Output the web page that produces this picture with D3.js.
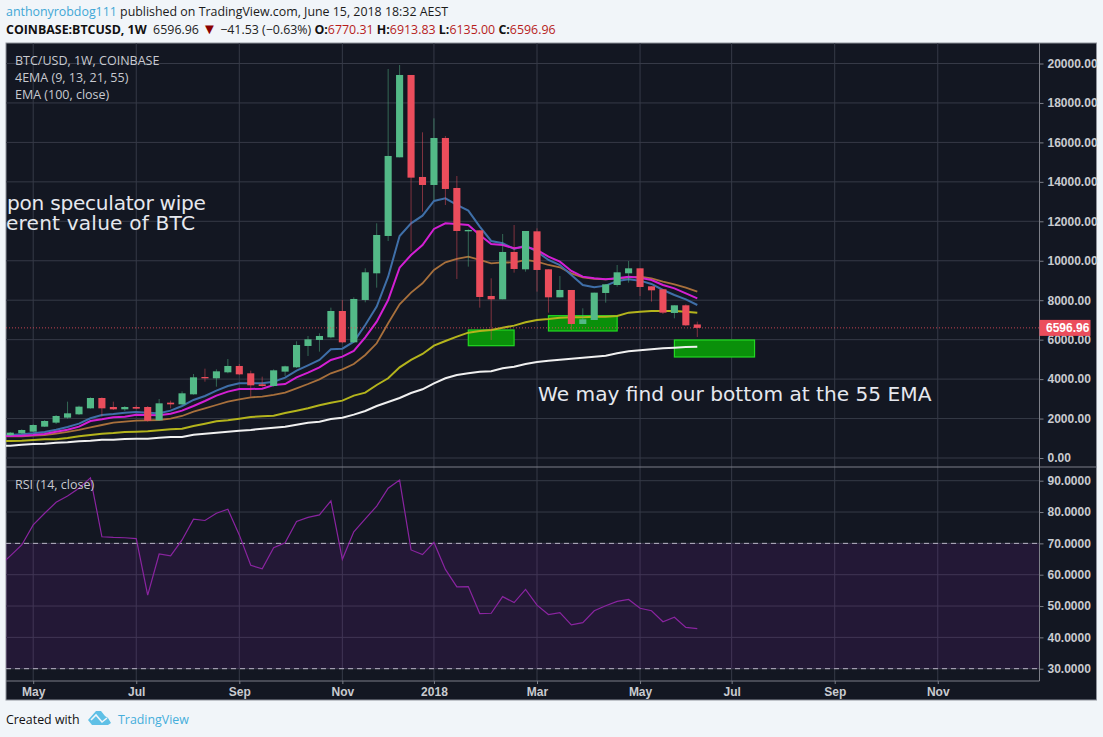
<!DOCTYPE html>
<html>
<head>
<meta charset="utf-8">
<script src="https://cdn.jsdelivr.net/npm/d3@7"></script>
<style>
  html, body { margin: 0; padding: 0; background: #f1f5f9; overflow: hidden; }
  svg { display: block; }
  text { font-family: "Open Sans", sans-serif; }
  .axis path, .axis line { stroke: #7c7f88; }
  .axis text { font-family: "Liberation Sans", sans-serif; font-size: 12px; font-weight: bold; fill: #c9cbd0; }
  .grid line { stroke: #363a47; stroke-width: 1; }
</style>
</head>
<body>
<div id="viz"></div>
<script>
// weekly candles
const opens = [1149,1251,1335,1589,1792,2045,2214,2518,3042,2586,2468,2586,2586,1910,2806,2721,3228,4107,4040,4344,4665,4293,3735,3651,4378,4597,5679,5983,6118,7453,5865,8011,9363,11256,15244,19418,14247,13841,16224,13689,11492,11543,8214,8045,10445,9566,11492,9566,8146,8518,6794,6997,8366,8771,9363,9616,8704,8552,7352,7741,6770.31];
const highs = [1319,1454,1707,1927,2180,2857,2654,3076,3076,2857,2637,2671,2637,2992,2907,3380,4259,4530,4496,5020,4766,4428,4124,4496,4682,5915,6186,6321,7622,8011,8146,9617,11898,19723,19925,19418,16512,17221,16326,14298,11594,11543,9109,11357,11813,11509,11644,9566,9228,8518,7589,8383,8805,9785,9988,9616,8704,8552,7741,7791,6913.83];
const lows = [1116,1217,1319,1572,1724,1995,2180,2502,2096,2434,2383,2468,1842,1893,2518,2687,3211,3870,3617,4293,4208,3110,3617,3617,4158,4563,5172,5392,6067,5814,5831,7893,8636,11002,15244,10461,12489,13081,12827,9076,9701,7622,5983,8045,9397,9447,8434,7369,8146,6490,6794,6997,7876,8687,8890,8214,7927,7301,7081,6693,6135];
const closes = [1285,1420,1673,1876,2130,2265,2603,3042,2518,2468,2586,2502,1893,2772,2721,3279,4090,4040,4394,4665,4242,3685,3651,4445,4648,5729,6017,6186,7453,5865,8062,9414,11306,15312,19418,14213,13841,16224,13639,11509,11560,8163,8045,10445,9583,11509,9532,8146,8518,6794,7031,8383,8805,9414,9616,8670,8501,7369,7741,6727,6596.96];

// indicator lines start one week earlier, just off the left edge
const ema9 = [1130,1166,1200,1251,1319,1437,1572,1741,2012,2180,2231,2299,2333,2299,2265,2400,2637,2941,3144,3414,3651,3786,3786,3786,3870,4073,4428,4699,4969,5510,5544,5899,6743,7673,9194,11256,11898,12287,13030,13166,12828,12540,11729,11002,10884,10597,10766,10461,10039,9785,9279,8772,8653,8738,8974,9059,8991,8822,8518,8264,8045,7757];
const ema13 = [1100,1116,1133,1166,1217,1335,1437,1589,1876,1961,2062,2096,2197,2180,2163,2248,2400,2637,2890,3161,3364,3499,3499,3516,3701,3752,4090,4327,4597,4969,5138,5425,6118,6912,8011,9650,10293,10799,11611,11898,11864,11813,11306,10850,10799,10630,10715,10546,10208,9954,9481,9194,9110,9059,9110,9194,9143,9025,8772,8602,8349,8095];
const ema21 = [1085,1099,1099,1133,1166,1234,1319,1420,1555,1673,1792,1842,1893,1910,1927,1995,2130,2349,2518,2687,2857,2975,3076,3110,3195,3313,3533,3752,3989,4293,4496,4766,5222,5814,6828,7791,8383,8856,9532,9921,10090,10208,10039,9870,9921,9904,10039,9954,9785,9667,9363,9160,9076,9059,9110,9143,9194,9110,8941,8805,8636,8434];
const ema55 = [845,862,879,913,947,947,1014,1099,1166,1234,1268,1319,1335,1352,1403,1454,1488,1623,1741,1859,1910,1995,2079,2113,2147,2282,2400,2518,2671,2806,2907,3161,3313,3701,4040,4597,4969,5273,5696,5932,6152,6355,6439,6490,6608,6710,6879,6997,7048,7115,7132,7132,7166,7166,7200,7369,7420,7453,7453,7453,7420,7369];
const ema100 = [600,626,676,710,727,778,795,845,879,930,930,964,981,981,1031,1065,1065,1183,1234,1285,1335,1386,1420,1488,1538,1589,1690,1792,1842,1978,2045,2197,2383,2636,2839,3042,3296,3482,3786,4040,4209,4293,4378,4394,4546,4631,4766,4868,4935,4986,5037,5087,5138,5189,5307,5408,5459,5510,5561,5594,5628,5645];
const rsi14 = [62.6,66.0,69.5,75.9,79.6,83.1,85.1,87.6,90.9,72.1,71.9,71.8,71.5,53.5,66.6,66.0,71.1,77.7,77.3,79.6,80.9,72.7,63.0,61.9,68.6,70.2,77.0,78.3,79.1,83.6,64.9,73.7,77.8,81.9,87.6,90.2,67.9,66.4,70.3,61.7,56.1,56.2,47.6,47.7,53.0,51.1,55.3,50.3,47.3,47.9,44.0,44.7,48.5,50.1,51.5,52.1,49.3,48.5,45.0,46.4,43.2,42.8];

const priceTicks = [0,2000,4000,6000,8000,10000,12000,14000,16000,18000,20000];
const rsiTicks = [30,40,50,60,70,80,90];
const timeTicks = [2,11,20,29,37,46,55,63,72,81];
const timeLabels = ["May","Jul","Sep","Nov","2018","Mar","May","Jul","Sep","Nov"];
const lastPrice = 6596.96;

// highlighted zones: [from week, to week, top price, bottom price]
const zones = [[40,44,6490,5694],[47,53,7215,6439],[58,65,5983,5121]];

const width = 1103, height = 737;
const paneLeft = 6, plotRight = 1039.5, panelRight = 1096.5;
const paneTop = 43, split = 467, rsiBottom = 681, panelBottom = 700;

const svg = d3.select("#viz").append("svg").attr("width", width).attr("height", height);

// header
const head1 = svg.append("text").attr("x", 6).attr("y", 16).style("font-size", "12.4px").attr("fill", "#1b1b1b");
head1.append("tspan").attr("fill", "#3fa7d6").text("anthonyrobdog111");
head1.append("tspan").text(" published on TradingView.com, June 15, 2018 18:32 AEST");

const head2Parts = [
  ["COINBASE:BTCUSD, 1W", "#111", "bold", 12.4], ["  6596.96 ", "#222", "normal", 12.4], ["▼", "#8b0000", "normal", 15],
  [" −41.53 (−0.63%) ", "#222", "normal", 12.4], ["O:", "#111", "bold", 12.4], ["6770.31 ", "#b71c1c", "normal", 12.4],
  ["H:", "#111", "bold", 12.4], ["6913.83 ", "#b71c1c", "normal", 12.4], ["L:", "#111", "bold", 12.4], ["6135.00 ", "#b71c1c", "normal", 12.4],
  ["C:", "#111", "bold", 12.4], ["6596.96", "#b71c1c", "normal", 12.4]
];
const head2 = svg.append("text").attr("x", 6).attr("y", 34).attr("xml:space", "preserve");
head2Parts.forEach(p => head2.append("tspan").attr("fill", p[1]).attr("font-weight", p[2]).style("font-size", p[3] + "px").text(p[0]));

// panel
svg.append("rect").attr("x", paneLeft).attr("y", paneTop).attr("width", panelRight - paneLeft).attr("height", panelBottom - paneTop)
  .attr("fill", "#131722").attr("stroke", "#8f939c").attr("stroke-width", 1);

svg.append("clipPath").attr("id", "plot").append("rect")
  .attr("x", paneLeft).attr("y", paneTop).attr("width", plotRight - paneLeft).attr("height", rsiBottom - paneTop);

const xScale = d3.scaleLinear().domain([0, 90]).range([10.3, 1040.8]);
const yScale = d3.scaleLinear().domain([0, 20000]).range([458, 63.5]);
const rScale = d3.scaleLinear().domain([30, 90]).range([668.7, 480.7]);

const plot = svg.append("g").attr("clip-path", "url(#plot)");

// grids
const grid = plot.append("g").attr("class", "grid");
grid.selectAll(".v").data(timeTicks).enter().append("line").attr("class", "v")
  .attr("x1", d => xScale(d)).attr("x2", d => xScale(d)).attr("y1", paneTop).attr("y2", rsiBottom);
grid.selectAll(".h").data(priceTicks).enter().append("line").attr("class", "h")
  .attr("x1", paneLeft).attr("x2", plotRight).attr("y1", d => yScale(d)).attr("y2", d => yScale(d));
grid.selectAll(".r").data(rsiTicks).enter().append("line").attr("class", "r")
  .attr("x1", paneLeft).attr("x2", plotRight).attr("y1", d => rScale(d)).attr("y2", d => rScale(d));

// rsi band
plot.append("rect").attr("x", paneLeft).attr("width", plotRight - paneLeft)
  .attr("y", rScale(70)).attr("height", rScale(30) - rScale(70))
  .attr("fill", "#7b1fa2").attr("fill-opacity", 0.16);
[70, 30].forEach(v => plot.append("line").attr("x1", paneLeft).attr("x2", plotRight)
  .attr("y1", rScale(v)).attr("y2", rScale(v))
  .attr("stroke", "#b9b4c6").attr("stroke-dasharray", "5 4").attr("stroke-width", 1));

// zones
plot.selectAll(".zone").data(zones).enter().append("rect").attr("class", "zone")
  .attr("x", d => xScale(d[0])).attr("width", d => xScale(d[1]) - xScale(d[0]))
  .attr("y", d => yScale(d[2])).attr("height", d => yScale(d[3]) - yScale(d[2]))
  .attr("fill", "#0a900a").attr("stroke", "#22d822").attr("stroke-width", 1.2);

// emas
const weeks = d3.range(closes.length);
const priceLine = d3.line().x((d, i) => xScale(i - 1)).y(d => yScale(d));
[[ema100, "#f0f0f0", 2], [ema55, "#b4b41c", 2], [ema21, "#a8703c", 1.8], [ema9, "#3f6fa8", 2], [ema13, "#d41fd4", 2]]
  .forEach(s => plot.append("path").attr("d", priceLine(s[0])).attr("fill", "none")
    .attr("stroke", s[1]).attr("stroke-width", s[2]));

// candles
const candleColor = i => closes[i] >= opens[i] ? "#53b987" : "#eb4d5c";
plot.selectAll(".wick").data(weeks).enter().append("line").attr("class", "wick")
  .attr("x1", d => xScale(d)).attr("x2", d => xScale(d))
  .attr("y1", d => yScale(highs[d])).attr("y2", d => yScale(lows[d]))
  .attr("stroke", candleColor).attr("stroke-opacity", 0.5).attr("stroke-width", 1);
plot.selectAll(".body").data(weeks).enter().append("rect").attr("class", "body")
  .attr("x", d => xScale(d - 0.31)).attr("width", xScale(0.62) - xScale(0))
  .attr("y", d => yScale(Math.max(opens[d], closes[d])))
  .attr("height", d => Math.max(1, Math.abs(yScale(opens[d]) - yScale(closes[d]))))
  .attr("fill", candleColor);

// last price line
plot.append("line").attr("x1", paneLeft).attr("x2", plotRight)
  .attr("y1", yScale(lastPrice)).attr("y2", yScale(lastPrice))
  .attr("stroke", "#eb4d5c").attr("stroke-opacity", 0.8).attr("stroke-dasharray", "1 2");

// rsi line
const rsiLine = d3.line().x((d, i) => xScale(i - 1)).y(d => rScale(d));
plot.append("path").attr("d", rsiLine(rsi14)).attr("fill", "none").attr("stroke", "#8a24a0").attr("stroke-width", 1.2);

// annotations
const note = (txt, x, y) => plot.append("text").attr("x", x).attr("y", y)
  .style("font-family", "'DejaVu Sans'").style("font-size", "20.15px").attr("fill", "#e6e8ee").text(txt);
note("pon speculator wipe", 7, 210).attr("textLength", 199);
note("herent value of BTC", -7, 230).attr("textLength", 202);
note("We may find our bottom at the 55 EMA", 538, 401);

// pane legends
[["BTC/USD, 1W, COINBASE", 65], ["4EMA (9, 13, 21, 55)", 82], ["EMA (100, close)", 99], ["RSI (14, close)", 489]]
  .forEach(l => svg.append("text").attr("x", 15).attr("y", l[1]).style("font-size", "12.5px").attr("fill", "#c8cad0").text(l[0]));

// axes
const axisPrice = d3.axisRight(yScale).tickValues(priceTicks).tickFormat(d3.format(".2f")).tickSize(4).tickPadding(4);
svg.append("g").attr("class", "axis").attr("transform", `translate(${plotRight},0)`).call(axisPrice)
  .select(".domain").attr("d", `M0,${paneTop}V${rsiBottom}`);
const axisRsi = d3.axisRight(rScale).tickValues(rsiTicks).tickFormat(d3.format(".4f")).tickSize(4).tickPadding(4);
svg.append("g").attr("class", "axis").attr("transform", `translate(${plotRight},0)`).call(axisRsi)
  .select(".domain").remove();
const axisTime = d3.axisBottom(xScale).tickValues(timeTicks).tickFormat((d, i) => timeLabels[i]).tickSize(3).tickPadding(3);
svg.append("g").attr("class", "axis").attr("transform", `translate(0,${rsiBottom})`).call(axisTime)
  .select(".domain").attr("d", `M${paneLeft},0H${plotRight}`);

svg.append("line").attr("x1", paneLeft).attr("x2", panelRight).attr("y1", split).attr("y2", split).attr("stroke", "#7c7f88");

// last price tag
const tagY = yScale(lastPrice);
svg.append("rect").attr("x", plotRight).attr("y", tagY - 8).attr("width", 51).attr("height", 16).attr("fill", "#eb4d5c");
svg.append("text").attr("x", plotRight + 6.5).attr("y", tagY + 4)
  .style("font-family", "'Liberation Sans'").style("font-size", "12px").style("font-weight", "bold")
  .attr("fill", "#fff").text(d3.format(".2f")(lastPrice));

// footer
svg.append("text").attr("x", 6).attr("y", 724).style("font-size", "12.4px").attr("fill", "#111").text("Created with");
svg.append("path").attr("d", "M88,720 L96,711 L101,711 L105,716 L108,718 L111,723 L108,725 L92,725 Z")
  .attr("fill", "#5fc0e6");
svg.append("path").attr("d", "M91,720 L96,715 L102,722 L107,718").attr("fill", "none")
  .attr("stroke", "#f1f5f9").attr("stroke-width", 1.6);
svg.append("text").attr("x", 118).attr("y", 724).style("font-size", "12.4px").attr("fill", "#45aedb").text("TradingView");
</script>
</body>
</html>
